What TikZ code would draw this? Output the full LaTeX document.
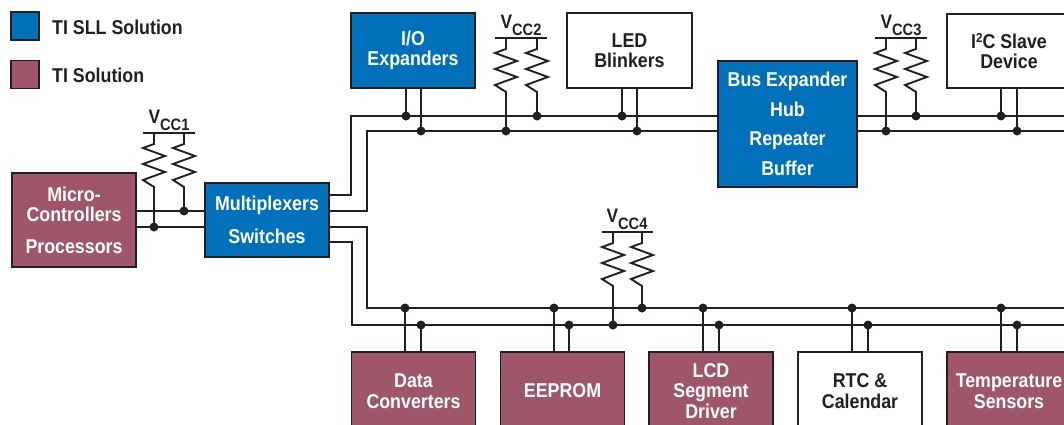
\documentclass[tikz,border=0pt]{standalone}
\usepackage{fontspec}
\setmainfont{Liberation Sans}[FakeStretch=0.89]
\pgfdeclarelayer{bg}
\pgfsetlayers{bg,main}
\definecolor{tiblue}{RGB}{0,112,186}
\definecolor{timauve}{RGB}{160,86,106}
\definecolor{ink}{RGB}{35,31,32}
\newcommand{\lblfont}{\fontsize{20}{20.5}\selectfont\bfseries}
\newcommand{\vcclbl}[1]{V\raisebox{-7pt}{\fontsize{16.5}{16.5}\selectfont\bfseries CC#1}}
\newcommand{\rzig}[3]{%
  \draw[wire] (#1,#2) -- (#1,#2+11) -- (#1-11,#2+15) -- (#1+11,#2+23) -- (#1-11,#2+31)
     -- (#1+11,#2+39) -- (#1-11,#2+47) -- (#1,#2+54) -- (#3.center);}
\tikzset{
  x=1pt, y=-1pt,
  box/.style={draw=ink, line width=1.6pt, minimum width=124, minimum height=75,
    inner sep=0pt, align=center, font=\lblfont},
  bluebox/.style={box, fill=tiblue, text=white},
  mauvebox/.style={box, fill=timauve, text=white},
  whitebox/.style={box, fill=white, text=ink},
  legtext/.style={anchor=west, inner sep=0pt, text=ink, font=\lblfont},
  vcctext/.style={anchor=south, inner sep=0pt, text=ink, font=\fontsize{19.5}{19.5}\selectfont\bfseries},
  wire/.style={draw=ink, line width=1.9pt, line join=miter},
  jdot/.style={circle, fill=ink, inner sep=0pt, minimum size=9},
}
\begin{document}
\begin{tikzpicture}
\useasboundingbox (0,0) rectangle (1064,424);

% legend
\node[bluebox, minimum width=28, minimum height=28] (legsll) at (25,26) {};
\node[legtext] (legsllt) at (52,27.5) {TI SLL Solution};
\node[mauvebox, minimum width=28, minimum height=28] (legti) at (25,74.5) {};
\node[legtext] (legtit) at (52,75.5) {TI Solution};

% main boxes
\node[mauvebox, minimum height=94] (micro) at (74,220) {Micro-\\Controllers\\[11pt]Processors};
\node[bluebox, minimum height=74] (mux) at (267,220) {Multiplexers\\[13pt]Switches};
\node[bluebox] (io) at (413,50.5) {I/O\\Expanders};
\node[whitebox, minimum width=125] (led) at (629.5,50.5) {LED\\Blinkers};
\node[bluebox, minimum width=139, minimum height=126] (bx) at (787.5,124)
  {Bus Expander\\[9pt]Hub\\[9pt]Repeater\\[9pt]Buffer};
\node[whitebox, minimum height=74] (i2c) at (1009,51)
  {I\raisebox{6pt}{\fontsize{13}{13}\selectfont\bfseries 2}C Slave\\Device};

\node[mauvebox, minimum height=78] (data) at (413.5,391) {Data\\Converters};
\node[mauvebox, minimum height=78] (eeprom) at (562.5,391) {EEPROM};
\node[mauvebox, minimum height=78] (lcd) at (711,391) {LCD\\Segment\\Driver};
\node[whitebox, minimum height=78] (rtc) at (860,391) {RTC \&\\Calendar};
\node[mauvebox, minimum height=78] (temp) at (1009,391) {Temperature\\Sensors};

% VCC labels
\node[vcctext] (vcc1) at (169,131) {\vcclbl{1}};
\node[vcctext] (vcc2) at (521,36) {\vcclbl{2}};
\node[vcctext] (vcc3) at (901,36) {\vcclbl{3}};
\node[vcctext] (vcc4) at (627,230) {\vcclbl{4}};

% junction dots
\node[jdot] (r1a) at (154,227) {};
\node[jdot] (r1b) at (184,211) {};
\node[jdot] (io1) at (406,116) {};
\node[jdot] (io2) at (421,131) {};
\node[jdot] (r2a) at (506,131) {};
\node[jdot] (r2b) at (537,116) {};
\node[jdot] (led1) at (622,116) {};
\node[jdot] (led2) at (637,131) {};
\node[jdot] (r3a) at (886,131) {};
\node[jdot] (r3b) at (916,116) {};
\node[jdot] (i2c1) at (1001,116) {};
\node[jdot] (i2c2) at (1017,131) {};
\node[jdot] (dc1) at (405,308) {};
\node[jdot] (dc2) at (421,325) {};
\node[jdot] (ee1) at (554,308) {};
\node[jdot] (ee2) at (569,325) {};
\node[jdot] (r4a) at (613,325) {};
\node[jdot] (r4b) at (642,308) {};
\node[jdot] (lc1) at (703,308) {};
\node[jdot] (lc2) at (719,325) {};
\node[jdot] (rt1) at (852,308) {};
\node[jdot] (rt2) at (868,325) {};
\node[jdot] (tp1) at (1001,308) {};
\node[jdot] (tp2) at (1017,325) {};

% bus corners
\coordinate (ta) at (351,195);
\coordinate (tb) at (351,116);
\coordinate (tc) at (367,211);
\coordinate (td) at (367,131);
\coordinate (ba) at (367,227);
\coordinate (bb) at (367,308);
\coordinate (bc) at (352,242);
\coordinate (bd) at (352,325);
\coordinate (edge) at (1075,0);

\begin{pgfonlayer}{bg}
  \fill[white] (0,0) rectangle (1064,424);
  % micro to mux
  \draw[wire] (micro.east |- r1b) -- (mux.west |- r1b);
  \draw[wire] (micro.east |- r1a) -- (mux.west |- r1a);
  % buses
  \draw[wire] (mux.east |- ta) -- (ta) -- (tb) -- (tb -| edge);
  \draw[wire] (mux.east |- tc) -- (tc) -- (td) -- (td -| edge);
  \draw[wire] (mux.east |- ba) -- (ba) -- (bb) -- (bb -| edge);
  \draw[wire] (mux.east |- bc) -- (bc) -- (bd) -- (bd -| edge);
  % device taps
  \foreach \d/\b in {io1/io, io2/io, led1/led, led2/led, i2c1/i2c, i2c2/i2c}
    \draw[wire] (\d.center) -- (\d.center |- \b.south);
  \foreach \d/\b in {dc1/data, dc2/data, ee1/eeprom, ee2/eeprom, lc1/lcd, lc2/lcd,
                     rt1/rtc, rt2/rtc, tp1/temp, tp2/temp}
    \draw[wire] (\d.center) -- (\d.center |- \b.north);
  % pull-up bars and resistors
  \draw[wire] (143,133) -- (195,133);
  \rzig{154}{133}{r1a}
  \rzig{184}{133}{r1b}
  \draw[wire] (495,38) -- (547,38);
  \rzig{506}{38}{r2a}
  \rzig{537}{38}{r2b}
  \draw[wire] (875,38) -- (927,38);
  \rzig{886}{38}{r3a}
  \rzig{916}{38}{r3b}
  \draw[wire] (602,232) -- (653,232);
  \rzig{613}{232}{r4a}
  \rzig{642}{232}{r4b}
\end{pgfonlayer}
\end{tikzpicture}
\end{document}
